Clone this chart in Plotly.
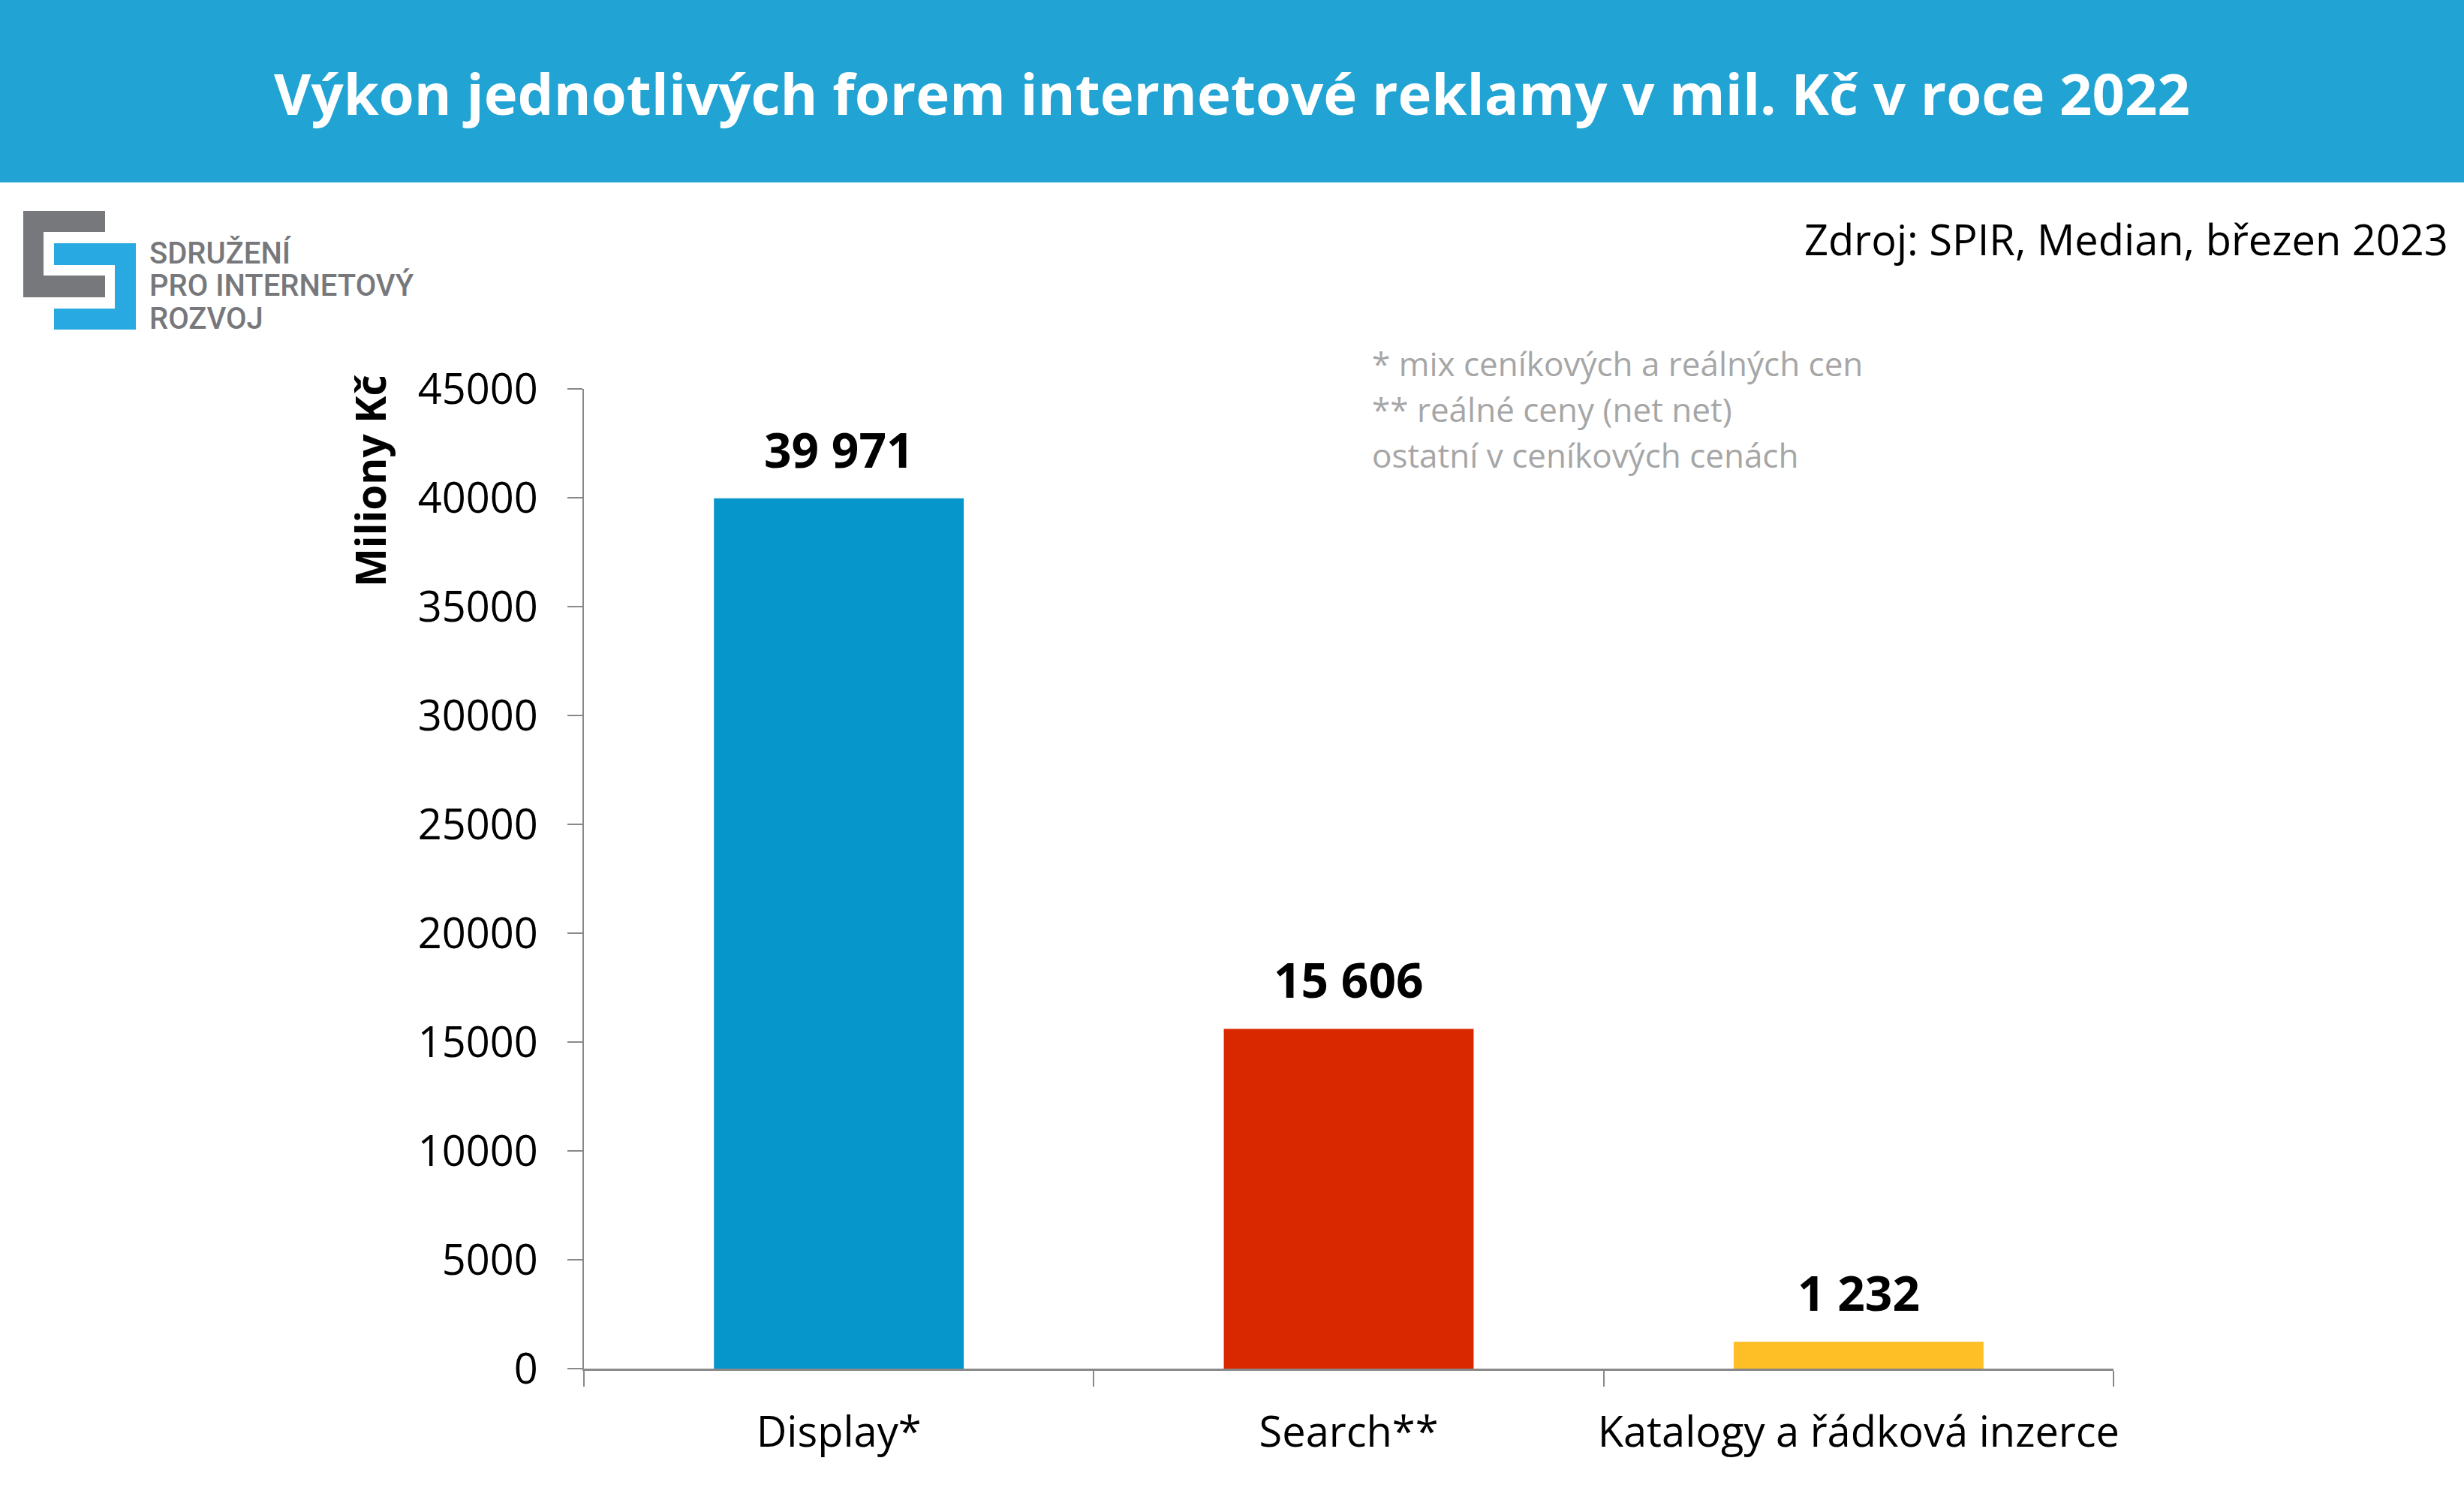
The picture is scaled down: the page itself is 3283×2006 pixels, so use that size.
import plotly.graph_objects as go

# ---- data ----
categories = ["Display*", "Search**", "Katalogy a řádková inzerce"]
values = [39971, 15606, 1232]
bar_colors = ["#0696CC", "#D92800", "#FDBE26"]
y_ticks = [0, 5000, 10000, 15000, 20000, 25000, 30000, 35000, 40000, 45000]

title_text = "Výkon jednotlivých forem internetové reklamy v mil. Kč v roce 2022"
source_text = "Zdroj: SPIR, Median, březen 2023"
notes = ["* mix ceníkových a reálných cen", "** reálné ceny (net net)", "ostatní v ceníkových cenách"]
logo_lines = ["SDRUŽENÍ", "PRO INTERNETOVÝ", "ROZVOJ"]
y_title = "Miliony Kč"

W, H = 3283, 2006
PL, PR, PT, PB = 778, 2816, 518, 1823  # plot area in pixels


def px(x):
    return (x - PL) / (PR - PL)


def py(y):
    return (PB - y) / (PB - PT)


FONT = "Open Sans"

fig = go.Figure(
    go.Bar(
        x=categories,
        y=values,
        marker=dict(color=bar_colors, line=dict(width=0)),
        width=0.49,
        hoverinfo="skip",
    )
)

annotations = []
# data labels
for c, v in zip(categories, values):
    annotations.append(dict(
        x=c, y=v, xref="x", yref="y", text=f"{v:,}".replace(",", " "),
        showarrow=False, yanchor="bottom", yshift=20,
        font=dict(family=FONT, size=64, color="black", weight="bold"),
    ))

# title
annotations.append(dict(
    x=px(1641), y=py(124), xref="paper", yref="paper", text=title_text,
    showarrow=False, xanchor="center", yanchor="middle",
    font=dict(family=FONT, size=76, color="white", weight="bold"),
))
# source
annotations.append(dict(
    x=px(3264), y=py(318), xref="paper", yref="paper", text=source_text,
    showarrow=False, xanchor="right", yanchor="middle",
    font=dict(family=FONT, size=56, color="black"),
))
# notes
for i, n in enumerate(notes):
    annotations.append(dict(
        x=px(1826), y=py(484 + i * 61), xref="paper", yref="paper", text=n,
        showarrow=False, xanchor="left", yanchor="middle",
        font=dict(family=FONT, size=44, color="#A6A6A6"),
    ))
# y axis title
annotations.append(dict(
    x=px(492), y=py(641), xref="paper", yref="paper", text=y_title,
    showarrow=False, xanchor="center", yanchor="middle", textangle=-90,
    font=dict(family=FONT, size=55, color="black", weight="bold"),
))
# logo text
for i, t in enumerate(logo_lines):
    annotations.append(dict(
        x=px(197), y=py(338 + i * 43), xref="paper", yref="paper", text=t,
        showarrow=False, xanchor="left", yanchor="middle",
        font=dict(family="Roboto", size=40, color="#77787B", weight=500),
    ))

shapes = []
# header band
shapes.append(dict(type="rect", xref="paper", yref="paper",
                   x0=px(0), x1=px(W), y0=py(0), y1=py(243),
                   fillcolor="#21A3D3", line=dict(width=0), layer="below"))
# logo
gray = "#77787B"
blue = "#29A9E1"
for (x0, y0, x1, y1, col) in [
    (31, 281, 140, 309, gray),
    (31, 281, 58, 396, gray),
    (31, 367, 140, 396, gray),
    (72, 324, 181, 353, blue),
    (153, 324, 181, 439, blue),
    (72, 411, 181, 439, blue),
]:
    shapes.append(dict(type="rect", xref="paper", yref="paper",
                       x0=px(x0), x1=px(x1), y0=py(y0), y1=py(y1),
                       fillcolor=col, line=dict(width=0)))

fig.update_layout(
    width=W, height=H,
    margin=dict(l=PL, r=W - PR, t=PT, b=H - PB, pad=0, autoexpand=False),
    paper_bgcolor="white", plot_bgcolor="white",
    showlegend=False,
    annotations=annotations,
    shapes=shapes,
    font=dict(family=FONT, color="black"),
)
fig.update_xaxes(
    range=[-0.5, 2.5], showgrid=False, zeroline=False, automargin=False,
    showline=True, linecolor="#898989", linewidth=3,
    ticks="outside", tickson="boundaries", ticklen=21, tickwidth=2, tickcolor="#898989",
    tickfont=dict(family=FONT, size=56, color="black"), tickangle=0,
    ticklabelstandoff=34,
)
fig.update_yaxes(
    range=[0, 45000], tickvals=y_ticks, ticktext=[str(t) for t in y_ticks],
    showgrid=False, zeroline=False, automargin=False,
    showline=True, linecolor="#898989", linewidth=2,
    ticks="outside", ticklen=20, tickwidth=2, tickcolor="#898989",
    tickfont=dict(family=FONT, size=56, color="black"),
    ticklabelstandoff=28,
)

fig.write_html("out.html", config={"displayModeBar": False},
               post_script="document.body.style.margin='0';")
